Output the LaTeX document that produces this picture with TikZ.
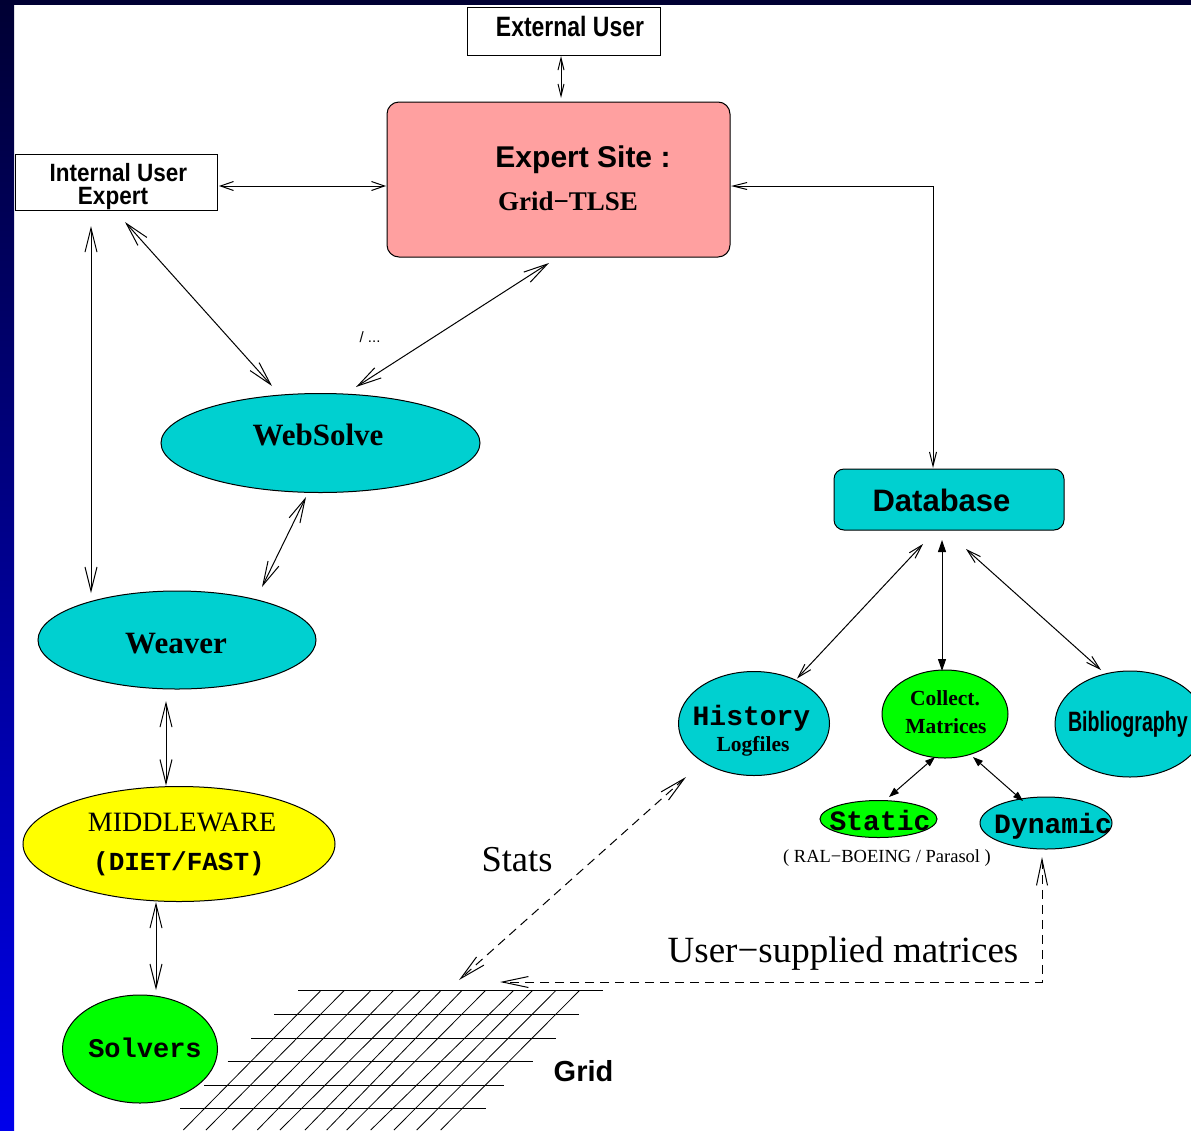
\documentclass[tikz,border=0pt]{standalone}
\usepackage{fontspec}
\setmainfont{Liberation Serif}
\setsansfont{Liberation Sans}
\setmonofont{Liberation Mono}
\newfontfamily\narrowA[FakeStretch=0.82]{Liberation Sans}
\newfontfamily\narrowB[FakeStretch=0.9]{Liberation Sans}
\newfontfamily\narrowC[FakeStretch=0.7]{Liberation Sans}
\usetikzlibrary{arrows.meta,shapes.geometric,calc}
\definecolor{navy}{RGB}{0,0,51}
\definecolor{stripblue}{RGB}{0,0,235}
\definecolor{expink}{RGB}{255,160,160}
\definecolor{tcyan}{RGB}{0,208,208}
\definecolor{lgreen}{RGB}{0,255,0}
\definecolor{myyellow}{RGB}{255,255,0}
\newcommand{\myfs}[1]{\fontsize{#1pt}{#1pt}\selectfont}
\begin{document}
\begin{tikzpicture}[x=1pt,y=-1pt,line width=1pt,
  boxst/.style={draw=black,line width=1pt,inner sep=0pt,outer sep=0pt},
  ell/.style={ellipse,draw=black,line width=1pt,inner sep=0pt,outer sep=0pt},
  txt/.style={anchor=base,inner sep=0pt,outer sep=0pt},
  gridline/.style={line width=0.8pt,black},
  tinyarr/.style={<->,>={Straight Barb[length=12pt,width=6pt]}},
  smallarr/.style={<->,>={Straight Barb[length=13pt,width=9pt]}},
  smallarrb/.style={<->,>={Straight Barb[length=14pt,width=7pt]}},
  midarr/.style={<->,>={Straight Barb[length=14pt,width=8pt]}},
  bigarr/.style={<->,>={Straight Barb[length=24pt,width=12pt]}},
  dasharr/.style={dash pattern=on 9pt off 6pt,<->,>={Straight Barb[length=26pt,width=11pt]}},
  solidarr/.style={<->,>={Triangle[length=12pt,width=8pt]}},
  solidsm/.style={<->,>={Triangle[length=10pt,width=7pt]}}]
\useasboundingbox (0,0) rectangle (1191,1130);
\clip (0,0) rectangle (1191,1130);
\fill[white] (0,0) rectangle (1191,1130);
\shade[top color=navy,bottom color=stripblue] (0,0) rectangle (14,1130);
\fill[navy] (0,0) rectangle (1191,5);

% grid
\foreach \yy/\aa/\bb in {990.7/298.3/603.3, 1014.7/274.3/579.3, 1038/251/556, 1061.7/227.7/532.7, 1085/204/504.3, 1108/180/486}
  \draw[gridline] (\aa,\yy) -- (\bb,\yy);
\foreach \tt/\bb in {320.7/183.3, 344/206, 370.7/232.3, 393.3/257.3, 420/280, 440.7/305, 461.7/326.7, 485.3/346.7, 513.3/370.7, 532.3/394, 555.7/416.7, 579.3/440.7}
  \draw[gridline] (\tt,990.7) -- (\bb,1130);
\coordinate (gridstats) at (459,980);
\coordinate (gridusr) at (500,982);

% shapes
\node[boxst,fill=white,minimum width=193pt,minimum height=48pt] (eu) at (563.5,31) {};
\node[boxst,fill=expink,rounded corners=12pt,minimum width=343pt,minimum height=155pt] (es) at (558.5,179.5) {};
\node[boxst,fill=white,minimum width=202pt,minimum height=56pt] (iu) at (116,182) {};
\node[boxst,fill=tcyan,rounded corners=10pt,minimum width=230pt,minimum height=61pt] (db) at (949,499.5) {};
\node[ell,fill=tcyan,minimum width=319pt,minimum height=99pt] (ws) at (320.5,443) {};
\node[ell,fill=tcyan,minimum width=278pt,minimum height=98pt] (wv) at (177,640) {};
\node[ell,fill=myyellow,minimum width=312pt,minimum height=115pt] (mw) at (179,844) {};
\node[ell,fill=lgreen,minimum width=155pt,minimum height=108pt] (sv) at (140,1049) {};
\node[ell,fill=tcyan,minimum width=151pt,minimum height=104pt] (hi) at (754,723.5) {};
\node[ell,fill=lgreen,minimum width=126pt,minimum height=88pt] (cm) at (945,714) {};
\node[ell,fill=tcyan,minimum width=150pt,minimum height=106pt] (bb) at (1130,724) {};
\node[ell,fill=lgreen,minimum width=117pt,minimum height=37pt] (st) at (878.5,819) {};
\node[ell,fill=tcyan,minimum width=132pt,minimum height=52pt] (dy) at (1046,823) {};

% texts
\node[txt,font=\narrowA\bfseries\myfs{28}] (eut) at (570,36) {External User};
\node[txt,font=\sffamily\bfseries\myfs{30}] (est1) at (583,167) {Expert Site :};
\node[txt,font=\rmfamily\bfseries\myfs{27}] (est2) at (568,210) {Grid−TLSE};
\node[txt,font=\narrowB\bfseries\myfs{25}] (iut1) at (118.5,181) {Internal User};
\node[txt,font=\narrowB\bfseries\myfs{25}] (iut2) at (113,204) {Expert};
\node[txt,font=\sffamily\bfseries\myfs{31}] (dbt) at (941.5,511) {Database};
\node[txt,font=\rmfamily\bfseries\myfs{31}] (wst) at (318,445) {WebSolve};
\node[txt,font=\rmfamily\bfseries\myfs{31}] (wvt) at (176,653) {Weaver};
\node[txt,font=\rmfamily\myfs{28}] (mwt1) at (182,831) {MIDDLEWARE};
\node[txt,font=\ttfamily\bfseries\myfs{26}] (mwt2) at (179,870) {(DIET/FAST)};
\node[txt,font=\ttfamily\bfseries\myfs{27}] (svt) at (145,1057) {Solvers};
\node[txt,font=\ttfamily\bfseries\myfs{28}] (hit1) at (751.5,725) {History};
\node[txt,font=\rmfamily\bfseries\myfs{21.5}] (hit2) at (753,751) {Logfiles};
\node[txt,font=\rmfamily\bfseries\myfs{21.5}] (cmt1) at (945,705) {Collect.};
\node[txt,font=\rmfamily\bfseries\myfs{21.5}] (cmt2) at (946,733) {Matrices};
\node[txt,anchor=base west,font=\narrowC\bfseries\myfs{28}] (bbt) at (1068,731) {Bibliography};
\node[txt,font=\ttfamily\bfseries\myfs{28}] (stt) at (880,830) {Static};
\node[txt,font=\ttfamily\bfseries\myfs{28}] (dyt) at (1053,833) {Dynamic};
\node[txt,font=\rmfamily\myfs{18.5}] (ral) at (887,862) {( RAL−BOEING / Parasol )};
\node[txt,font=\sffamily\myfs{15}] (dots) at (370,342) {/ ...};
\node[txt,font=\rmfamily\myfs{36.5}] (stats) at (517,871) {Stats};
\node[txt,font=\rmfamily\myfs{37}] (usm) at (843,962) {User−supplied matrices};
\node[txt,font=\sffamily\bfseries\myfs{29}] (gridt) at (583.5,1081) {Grid};

% connectors
\draw[tinyarr] ($(eu.south)+(-2.5,1)$) -- ($(es.north)+(2.5,-4)$);
\draw[smallarr] ($(iu.east)+(2,4)$) -- ($(es.west)+(-1,6.5)$);
\draw[smallarrb] ($(es.east)+(1,6.5)$) -| ($(db.north)+(-16,-1)$);
\draw[bigarr] ($(iu.south)+(9,12)$) -- ($(ws.north)+(-48.5,-7.5)$);
\draw[bigarr] ($(es.south)+(-9.5,6)$) -- ($(ws.north)+(35.5,-6.5)$);
\draw[bigarr] ($(iu.south)+(-25,16)$) -- ($(wv.north)+(-86,2)$);
\draw[bigarr] ($(ws.south)+(-14.5,4.5)$) -- ($(wv.north)+(85,-4)$);
\draw[bigarr] ($(wv.south)+(-11,12)$) -- ($(mw.north)+(-13,-1)$);
\draw[bigarr] ($(mw.south)+(-23,0.5)$) -- ($(sv.north)+(16,-5)$);
\draw[midarr] ($(db.south)+(-26,14)$) -- ($(hi.north)+(43,7)$);
\draw[solidarr] ($(db.south)+(-7,10)$) -- ($(cm.north)+(-3,1)$);
\draw[midarr] ($(db.south)+(17,19)$) -- ($(bb.north)+(-29,-1)$);
\draw[solidsm] ($(cm.south)+(-10,-1)$) -- ($(st.north)+(10.5,-3.5)$);
\draw[solidsm] ($(cm.south)+(28,-1)$) -- ($(dy.north)+(-23,4)$);
\draw[dasharr] ($(hi.south)+(-68,1.5)$) -- (gridstats);
\draw[dasharr] ($(dy.south)+(-4,8)$) |- (gridusr);
\end{tikzpicture}
\end{document}
